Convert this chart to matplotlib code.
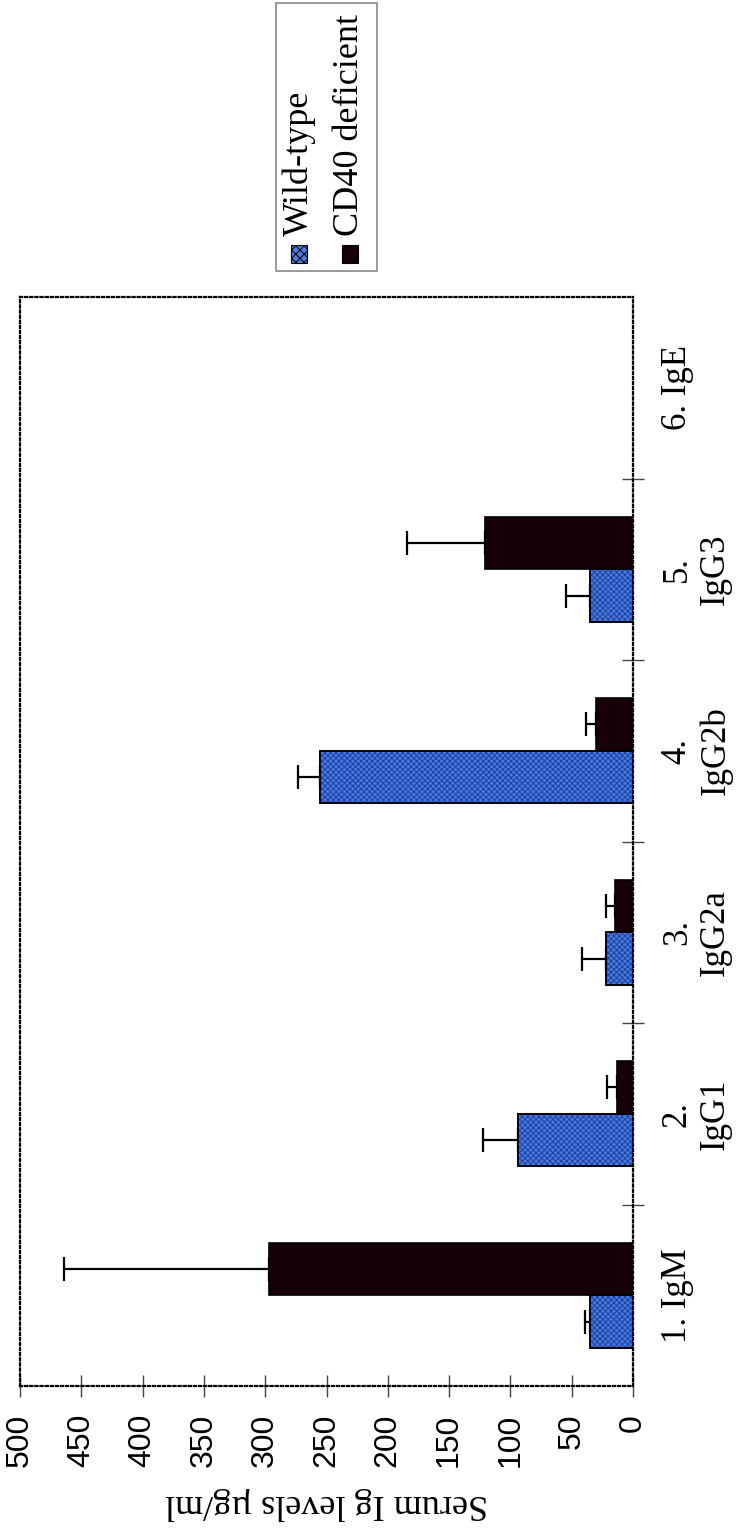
import numpy as np
import matplotlib
matplotlib.use("Agg")
import matplotlib.pyplot as plt
from matplotlib.patches import Rectangle

# serum Ig, wild-type vs CD40 deficient (µg/ml)
categories = ["1. IgM", "2.\nIgG1", "3.\nIgG2a", "4.\nIgG2b", "5.\nIgG3", "6. IgE"]
wild = [35, 94, 22, 255, 35, np.nan]
wild_err = [4, 28, 20, 18, 20, np.nan]
cd40 = [297, 13, 15, 30, 121, np.nan]
cd40_err = [167, 8, 7, 8, 63, np.nan]
value_ticks = list(range(0, 501, 50))
series_names = ["Wild-type", "CD40 deficient"]

BLUE = "#4a7be2"
HATCH = "#1d3f9e"
DARK = "#170008"
SERIF = ["Liberation Serif", "DejaVu Serif"]
SANS = ["Liberation Sans", "DejaVu Sans"]
plt.rcParams["hatch.linewidth"] = 0.7

W, H = 741, 1534
fig = plt.figure(figsize=(W / 100, H / 100), dpi=100)
ax = fig.add_axes([20 / W, 1 - 1386 / H, 613 / W, 1089 / H])

y = np.arange(len(categories))
h = 0.29
wild_a = np.array(wild, float)
cd40_a = np.array(cd40, float)
m = ~np.isnan(wild_a)

# wild-type: blue with fine dark-blue pattern
ax.barh(y[m] - h / 2, wild_a[m], h, color=BLUE, edgecolor="black", linewidth=1.2, zorder=2)
ax.barh(y[m] - h / 2, wild_a[m], h, facecolor="none", edgecolor=HATCH, hatch="xxxxxx",
        linewidth=0, zorder=3)
ax.barh(y[m] - h / 2, wild_a[m], h, facecolor="none", edgecolor="black", linewidth=1.2, zorder=4)
ax.barh(y[m] + h / 2, cd40_a[m], h, color=DARK, edgecolor="black", linewidth=1.2, zorder=2)

# one-sided error bars
we = np.array(wild_err, float)[m]
ce = np.array(cd40_err, float)[m]
ax.errorbar(wild_a[m], y[m] - h / 2, xerr=[np.zeros_like(we), we], fmt="none",
            ecolor="black", elinewidth=1.6, capsize=8.5, capthick=1.6, zorder=5)
ax.errorbar(cd40_a[m], y[m] + h / 2, xerr=[np.zeros_like(ce), ce], fmt="none",
            ecolor="black", elinewidth=1.6, capsize=8.5, capthick=1.6, zorder=5)

ax.set_xlim(500, 0)
ax.set_ylim(-0.5, len(categories) - 0.5)

# value axis (bottom after rotation)
ax.set_xticks(value_ticks)
ax.set_xticklabels([str(v) for v in value_ticks], rotation=90, fontsize=23, family=SANS)
ax.tick_params(axis="x", direction="inout", length=16, width=1.0, pad=12, color="#444444")

# category axis (right side after rotation)
ax.yaxis.tick_right()
ax.set_yticks(y)
ax.set_yticklabels(categories, rotation=90, fontsize=25, family=SERIF, va="center")
for lab in ax.get_yticklabels():
    lab.set_multialignment("center")
ax.tick_params(axis="y", which="major", length=0, pad=20)
ax.set_yticks(np.arange(0.5, len(categories) - 1, 1.0), minor=True)
ax.tick_params(axis="y", which="minor", direction="inout", length=16, width=1.0, color="#444444")

for s in ax.spines.values():
    s.set_linestyle((0, (1, 1.3)))
    s.set_linewidth(1.6)

ax.set_xlabel("Serum Ig levels µg/ml", rotation=180, fontsize=26, family=SERIF, labelpad=14)

# legend drawn by hand (rotated with the chart)
fig.patches.append(Rectangle((276 / W, 1 - 271 / H), 101 / W, 268 / H, transform=fig.transFigure,
                             facecolor="white", edgecolor="#888888", linewidth=1.2))
for xc, col, name in [(299, BLUE, series_names[0]), (350, DARK, series_names[1])]:
    fig.patches.append(Rectangle(((xc - 8) / W, 1 - 263 / H), 16 / W, 18 / H,
                                 transform=fig.transFigure, facecolor=col,
                                 edgecolor="black", linewidth=0.8,
                                 hatch="xxxx" if col == BLUE else None))
    fig.text(xc / W, 1 - 236 / H, name, rotation=90, ha="center", va="bottom",
             fontsize=26, family=SERIF)

fig.savefig("out.png", dpi=100)
